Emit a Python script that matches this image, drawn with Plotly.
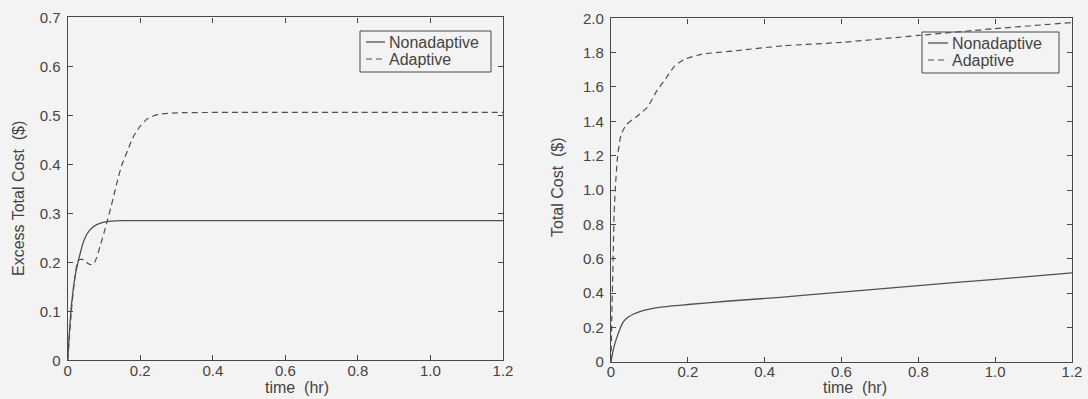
import plotly.graph_objects as go

# ---------------- data ----------------
t_left_non = [0, 0.005, 0.01, 0.02, 0.03, 0.045, 0.06, 0.08, 0.1, 0.12, 0.15, 0.2, 0.4, 0.6, 0.8, 1.0, 1.2]
v_left_non = [0, 0.06, 0.11, 0.17, 0.205, 0.245, 0.265, 0.277, 0.282, 0.284, 0.285, 0.285, 0.285, 0.285, 0.285, 0.285, 0.285]

t_left_ad = [0, 0.005, 0.01, 0.02, 0.028, 0.035, 0.045, 0.055, 0.065, 0.072, 0.08, 0.09, 0.1, 0.11,
             0.12, 0.13, 0.14, 0.15, 0.165, 0.18, 0.2, 0.22, 0.25, 0.3, 0.5, 0.8, 1.0, 1.2]
v_left_ad = [0, 0.05, 0.1, 0.17, 0.203, 0.206, 0.205, 0.198, 0.195, 0.197, 0.21, 0.235, 0.26, 0.287,
             0.315, 0.345, 0.375, 0.40, 0.428, 0.455, 0.478, 0.493, 0.502, 0.505, 0.506, 0.506, 0.506, 0.506]

t_right_non = [0, 0.005, 0.015, 0.032, 0.045, 0.059, 0.075, 0.094, 0.13, 0.2, 0.3, 0.44, 0.6, 0.8, 1.0, 1.2]
v_right_non = [0, 0.06, 0.14, 0.232, 0.26, 0.278, 0.292, 0.303, 0.318, 0.333, 0.352, 0.375, 0.405, 0.443, 0.48, 0.517]

t_right_ad = [0, 0.002, 0.004, 0.006, 0.008, 0.011, 0.017, 0.026, 0.04, 0.068, 0.094, 0.12, 0.143,
              0.165, 0.19, 0.235, 0.32, 0.45, 0.6, 0.8, 1.0, 1.2]
v_right_ad = [0, 0.25, 0.45, 0.65, 0.85, 1.0, 1.19, 1.32, 1.38, 1.43, 1.48, 1.58, 1.65,
              1.72, 1.76, 1.79, 1.81, 1.84, 1.86, 1.90, 1.94, 1.975]

x_tickvals = [0, 0.2, 0.4, 0.6, 0.8, 1.0, 1.2]
x_ticktext = ["0", "0.2", "0.4", "0.6", "0.8", "1.0", "1.2"]
yl_tickvals = [0, 0.1, 0.2, 0.3, 0.4, 0.5, 0.6, 0.7]
yl_ticktext = ["0", "0.1", "0.2", "0.3", "0.4", "0.5", "0.6", "0.7"]
yr_tickvals = [0, 0.2, 0.4, 0.6, 0.8, 1.0, 1.2, 1.4, 1.6, 1.8, 2.0]
yr_ticktext = ["0", "0.2", "0.4", "0.6", "0.8", "1.0", "1.2", "1.4", "1.6", "1.8", "2.0"]

series_names = ["Nonadaptive", "Adaptive"]
left_ytitle = "Excess Total Cost  ($)"
right_ytitle = "Total Cost  ($)"
xtitle = "time  (hr)"

# ---------------- style ----------------
W, H = 1088, 399
BG = "#f3f3f3"
AX = "#484848"
LC = "#505050"
TXT = "#444444"
FONT = "Liberation Sans, Arial, sans-serif"
DASH = "6px,4px"


def px_x(p):
    return p / W


def px_y(p):
    return 1 - p / H


fig = go.Figure()

line_kw = dict(mode="lines", line_shape="spline", showlegend=False, hoverinfo="skip")
fig.add_trace(go.Scatter(x=t_left_non, y=v_left_non, xaxis="x", yaxis="y",
                         line=dict(color=LC, width=1.3, smoothing=0.6), **line_kw))
fig.add_trace(go.Scatter(x=t_left_ad, y=v_left_ad, xaxis="x", yaxis="y",
                         line=dict(color=LC, width=1.2, dash=DASH, smoothing=0.6), **line_kw))
fig.add_trace(go.Scatter(x=t_right_non, y=v_right_non, xaxis="x2", yaxis="y2",
                         line=dict(color=LC, width=1.3, smoothing=0.6), **line_kw))
fig.add_trace(go.Scatter(x=t_right_ad, y=v_right_ad, xaxis="x2", yaxis="y2",
                         line=dict(color=LC, width=1.2, dash=DASH, smoothing=0.6), **line_kw))

axis_common = dict(showgrid=False, zeroline=False, showline=True, linecolor=AX, linewidth=1.4,
                   mirror="ticks", ticks="inside", ticklen=5, tickcolor=AX, tickwidth=1,
                   automargin=False,
                   tickfont=dict(family=FONT, size=15, color=TXT))

fig.update_layout(
    template="none",
    width=W, height=H,
    margin=dict(l=0, r=0, t=0, b=0, pad=0, autoexpand=False),
    paper_bgcolor=BG, plot_bgcolor=BG,
    showlegend=False,
    xaxis=dict(domain=[px_x(67.7), px_x(503)], range=[0, 1.2], tickvals=x_tickvals,
               ticktext=x_ticktext, anchor="y", ticklabelstandoff=-4, **axis_common),
    yaxis=dict(domain=[px_y(360.3), px_y(17.3)], range=[0, 0.7], tickvals=yl_tickvals,
               ticktext=yl_ticktext, anchor="x", ticklabelstandoff=3, **axis_common),
    xaxis2=dict(domain=[px_x(611), px_x(1072)], range=[0, 1.2], tickvals=x_tickvals,
                ticktext=x_ticktext, anchor="y2", ticklabelstandoff=-4, **axis_common),
    yaxis2=dict(domain=[px_y(361.7), px_y(18.3)], range=[0, 2.0], tickvals=yr_tickvals,
                ticktext=yr_ticktext, anchor="x2", ticklabelstandoff=3, **axis_common),
)

title_font = dict(family=FONT, size=16, color=TXT)
annotations = [
    dict(text=xtitle, x=px_x(297), y=px_y(387), xref="paper", yref="paper",
         xanchor="center", yanchor="middle", showarrow=False, font=title_font),
    dict(text=xtitle, x=px_x(855), y=px_y(387), xref="paper", yref="paper",
         xanchor="center", yanchor="middle", showarrow=False, font=title_font),
    dict(text=left_ytitle, x=px_x(18), y=px_y(199), xref="paper", yref="paper", textangle=-90,
         xanchor="center", yanchor="middle", showarrow=False, font=title_font),
    dict(text=right_ytitle, x=px_x(557), y=px_y(187), xref="paper", yref="paper", textangle=-90,
         xanchor="center", yanchor="middle", showarrow=False, font=title_font),
]

shapes = []
legend_font = dict(family=FONT, size=16, color=TXT)
# (box x0, x1, y0, y1, sample x0, x1, text x, row1 y, row2 y)
legends = [
    (360, 491, 31, 72, 366, 385, 387, 42, 59),
    (922, 1059, 32, 73, 928, 948, 950, 43, 60),
]
for bx0, bx1, by0, by1, sx0, sx1, tx, r1, r2 in legends:
    shapes.append(dict(type="rect", xref="paper", yref="paper", x0=px_x(bx0), x1=px_x(bx1),
                       y0=px_y(by1), y1=px_y(by0), line=dict(color=AX, width=1), fillcolor="rgba(0,0,0,0)"))
    shapes.append(dict(type="line", xref="paper", yref="paper", x0=px_x(sx0), x1=px_x(sx1),
                       y0=px_y(r1), y1=px_y(r1), line=dict(color=LC, width=1.3)))
    shapes.append(dict(type="line", xref="paper", yref="paper", x0=px_x(sx0), x1=px_x(sx1),
                       y0=px_y(r2), y1=px_y(r2), line=dict(color=LC, width=1.2, dash=DASH)))
    for name, ry in zip(series_names, [r1, r2]):
        annotations.append(dict(text=name, x=px_x(tx), y=px_y(ry), xref="paper", yref="paper",
                                xanchor="left", yanchor="middle", showarrow=False, font=legend_font))

fig.update_layout(annotations=annotations, shapes=shapes)

fig.write_html("out.html")
